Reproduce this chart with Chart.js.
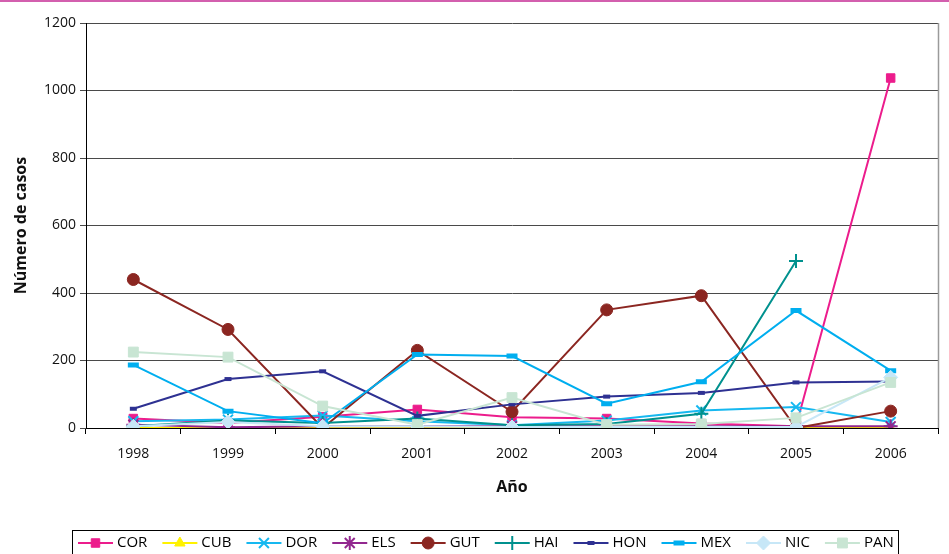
<!DOCTYPE html>
<html>
<head>
<meta charset="utf-8">
<script src="https://cdn.jsdelivr.net/npm/chart.js@4/dist/chart.umd.min.js"></script>
<style>
  html, body { margin: 0; padding: 0; background: #fff; }
  #wrap { position: relative; width: 949px; height: 554px; overflow: hidden; }
  #topRule { position: absolute; left: 0; top: 0; width: 949px; height: 2px; background: #d35fae; }
  canvas { position: absolute; left: 0; top: 0; }
</style>
</head>
<body>
<div id="wrap">
  <canvas id="c" width="949" height="554"></canvas>
  <div id="topRule"></div>
</div>
<script>
// Casos registrados por país y año
const years = ['1998', '1999', '2000', '2001', '2002', '2003', '2004', '2005', '2006'];
const COR = [28, 15, 33, 55, 32, 28, 13, 5, 1037];
const CUB = [0, 0, 0, 0, 0, 0, 0, 0, 0];
const DOR = [20, 25, 37, 20, 8, 22, 52, 62, 18];
const ELS = [10, 2, 5, 5, 5, 5, 5, 5, 5];
const GUT = [440, 292, 0, 230, 48, 350, 392, 0, 50];
const HAI = [5, 22, 15, 28, 8, 12, 42, 495, null];
const HON = [57, 145, 168, 36, 70, 93, 104, 135, 138];
const MEX = [187, 50, 14, 218, 213, 72, 137, 348, 170];
const NIC = [5, 18, 5, 5, 3, 3, 3, 3, 150];
const PAN = [225, 210, 65, 10, 90, 10, 12, 30, 135];
const yTicks = [0, 200, 400, 600, 800, 1000, 1200];

const FONT = "'Open Sans', 'Liberation Sans', sans-serif";

// name, values, colour, marker style, marker radius, marker line width
const series = [
  ['COR', COR, '#ec1c8c', 'rect', 6, 1],
  ['CUB', CUB, '#fff200', 'triangle', 6, 1],
  ['DOR', DOR, '#16b8f0', 'crossRot', 7, 2],
  ['ELS', ELS, '#92278f', 'star', 7, 2],
  ['GUT', GUT, '#8b2621', 'circle', 6, 1],
  ['HAI', HAI, '#00918e', 'cross', 7, 2],
  ['HON', HON, '#2e3192', 'line', 3.5, 4],
  ['MEX', MEX, '#00aeef', 'line', 5.5, 5],
  ['NIC', NIC, '#c7e7f7', 'rectRot', 7, 1],
  ['PAN', PAN, '#c8e5d3', 'rect', 7, 1]
];

const datasets = series.map(([name, vals, col, ps, r, bw], i) => ({
  label: name,
  data: vals,
  borderColor: col,
  backgroundColor: col,
  borderWidth: 2,
  tension: 0,
  pointStyle: ps,
  pointRadius: r,
  pointBorderWidth: bw,
  pointBackgroundColor: col,
  pointBorderColor: col,
  order: series.length - i,
  spanGaps: false
}));

// Frame on the right edge of the plot area
const frame = {
  id: 'frame',
  afterDatasetsDraw(chart) {
    const { ctx, chartArea: a } = chart;
    ctx.save();
    ctx.strokeStyle = '#9a9a9a';
    ctx.lineWidth = 1.5;
    ctx.beginPath();
    ctx.moveTo(Math.round(a.right) + 0.5, a.top);
    ctx.lineTo(Math.round(a.right) + 0.5, a.bottom);
    ctx.stroke();
    ctx.restore();
  }
};

// Boxed legend under the axis title: line sample with marker, then the name
const boxLegend = {
  id: 'boxLegend',
  afterDraw(chart) {
    const ctx = chart.ctx;
    const metaList = chart.data.datasets;
    ctx.save();
    ctx.font = "15px " + FONT;
    ctx.textBaseline = 'middle';
    const cy = 543;
    let x = 78;
    const lineLen = 35;
    metaList.forEach(ds => {
      ctx.strokeStyle = ds.borderColor;
      ctx.fillStyle = ds.borderColor;
      ctx.lineWidth = 2;
      ctx.beginPath();
      ctx.moveTo(x, cy);
      ctx.lineTo(x + lineLen, cy);
      ctx.stroke();
      ctx.lineWidth = ds.pointBorderWidth;
      Chart.helpers.drawPoint(ctx, {
        pointStyle: ds.pointStyle,
        radius: ds.pointRadius,
        rotation: 0,
        borderWidth: ds.pointBorderWidth
      }, x + lineLen / 2, cy);
      ctx.fillStyle = '#000';
      ctx.fillText(ds.label, x + lineLen + 4, cy);
      x += lineLen + 4 + ctx.measureText(ds.label).width + 15;
    });
    ctx.strokeStyle = '#000';
    ctx.lineWidth = 1;
    ctx.strokeRect(72.5, 530.5, 826, 24);
    ctx.restore();
  }
};

new Chart(document.getElementById('c'), {
  type: 'line',
  data: { labels: years, datasets },
  options: {
    responsive: false,
    animation: false,
    events: [],
    layout: { padding: { left: 0, right: 11, top: 23, bottom: 54 } },
    plugins: { legend: { display: false }, tooltip: { enabled: false } },
    scales: {
      x: {
        offset: true,
        grid: { offset: true, drawOnChartArea: false, tickLength: 6, color: '#000' },
        border: { color: '#000', width: 1 },
        ticks: { font: { family: FONT, size: 14 }, color: '#111', padding: 12, maxRotation: 0 },
        title: {
          display: true, text: 'Año', color: '#111',
          font: { family: FONT, size: 16, weight: 'bold' },
          padding: { top: 0, bottom: 3 }
        },
        afterFit(s) { s.height = 72; }
      },
      y: {
        min: 0,
        max: 1200,
        afterBuildTicks(s) { s.ticks = yTicks.map(v => ({ value: v })); },
        grid: { color: '#4a4a4a', tickLength: 6, lineWidth: 1 },
        border: { color: '#000', width: 1 },
        ticks: {
          font: { family: FONT, size: 14 }, color: '#111', padding: 4,
          callback: v => String(v)
        },
        title: {
          display: true, text: 'Número de casos', color: '#111',
          font: { family: FONT, size: 16, weight: 'bold' },
          padding: { top: 12, bottom: 0 }
        },
        afterFit(s) { s.width = 86; }
      }
    }
  },
  plugins: [frame, boxLegend]
});
</script>
</body>
</html>
